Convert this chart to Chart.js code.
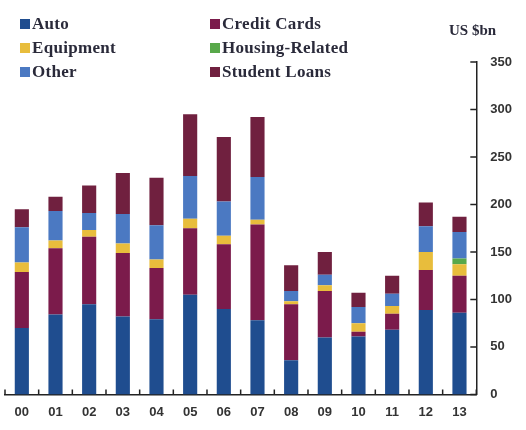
<!DOCTYPE html>
<html>
<head>
<meta charset="utf-8">
<script src="https://cdn.jsdelivr.net/npm/chart.js@4.4.1/dist/chart.umd.min.js"></script>
<style>
  body { margin: 0; background: #fff; }
  #wrap { position: relative; width: 526px; height: 430px; }
  .leg { position: absolute; font: bold 17px "Liberation Serif", serif; letter-spacing: 0.3px; color: #2a2a3a; white-space: nowrap; }
  .leg i { display: inline-block; width: 10px; height: 10px; margin-right: 2px; vertical-align: 0px; }
  #unit { position: absolute; left: 449px; top: 22px; font: bold 15px "Liberation Serif", serif; color: #2a2a3a; }
</style>
</head>
<body>
<div id="wrap">
  <canvas id="myChart" width="526" height="430"></canvas>
  <div id="unit">US $bn</div>
</div>
<script>
// years along the bottom
const years = ['00','01','02','03','04','05','06','07','08','09','10','11','12','13'];

// US $bn
const auto         = [70, 84, 95, 82, 79, 105, 90, 78, 36, 60, 61, 68, 89, 86];
const creditCards  = [59, 70, 71, 67, 54, 70, 68, 101, 59, 49, 5, 17, 42, 39];
const equipment    = [10, 8, 7, 10, 9, 10, 9, 5, 3, 6, 9, 8, 19, 12];
const housing      = [0, 0, 0, 0, 0, 0, 0, 0, 0, 0, 0, 0, 0, 6];
const other        = [37, 31, 18, 31, 36, 45, 36, 45, 11, 11, 17, 13, 27, 28];
const studentLoans = [19, 15, 29, 43, 50, 65, 68, 63, 27, 24, 15, 19, 25, 16];

const yTicks = [0, 50, 100, 150, 200, 250, 300, 350];

const series = [
  { label: 'Auto', data: auto, color: '#1f4d8f' },
  { label: 'Credit Cards', data: creditCards, color: '#7b1b4b' },
  { label: 'Equipment', data: equipment, color: '#e8bd3c' },
  { label: 'Housing-Related', data: housing, color: '#58a84a' },
  { label: 'Other', data: other, color: '#4b79c2' },
  { label: 'Student Loans', data: studentLoans, color: '#70203f' }
];

// legend in two columns, same order as the datasets
const legPos = [[20, 14], [210, 14], [20, 38], [210, 38], [20, 62], [210, 62]];
series.forEach((s, i) => {
  const d = document.createElement('div');
  d.className = 'leg';
  d.style.left = legPos[i][0] + 'px';
  d.style.top = legPos[i][1] + 'px';
  d.innerHTML = '<i style="background:' + s.color + '"></i>' + s.label;
  document.getElementById('wrap').appendChild(d);
});

// small tick marks drawn inside the plot, like the original
const innerTicks = {
  id: 'innerTicks',
  afterDraw(chart) {
    const c = chart.ctx, x = chart.scales.x, y = chart.scales.y;
    c.save();
    c.strokeStyle = '#222';
    c.lineWidth = 1.5;
    c.beginPath();
    yTicks.forEach(v => {
      const py = y.getPixelForValue(v);
      c.moveTo(x.right - 6, py);
      c.lineTo(x.right, py);
    });
    for (let i = 0; i <= years.length; i++) {
      const px = x.left + (x.right - x.left) * i / years.length;
      c.moveTo(px, y.bottom);
      c.lineTo(px, y.bottom - 5);
    }
    c.stroke();
    c.restore();
  }
};

const ctx = document.getElementById('myChart');
var myChart = new Chart(ctx, {
  type: 'bar',
  data: {
    labels: years,
    datasets: series.map(s => ({
      label: s.label,
      data: s.data,
      backgroundColor: s.color,
      borderWidth: 0,
      barPercentage: 0.42,
      categoryPercentage: 1
    }))
  },
  options: {
    responsive: false,
    animation: false,
    layout: { padding: { left: 5, right: 0, top: 62, bottom: 0 } },
    plugins: { legend: { display: false }, tooltip: { enabled: false } },
    scales: {
      x: {
        stacked: true,
        grid: { display: false, drawTicks: false },
        border: { display: true, color: '#222', width: 1.5 },
        ticks: { color: '#333', padding: 10, font: { family: 'Liberation Sans', weight: 'bold', size: 13 } }
      },
      y: {
        stacked: true,
        position: 'right',
        min: 0,
        max: 350,
        afterBuildTicks: (axis) => { axis.ticks = yTicks.map(v => ({ value: v })); },
        grid: { display: false, drawTicks: false },
        border: { display: true, color: '#222', width: 1.5 },
        ticks: { color: '#333', padding: 14, font: { family: 'Liberation Sans', weight: 'bold', size: 13 } }
      }
    }
  },
  plugins: [innerTicks]
});
</script>
</body>
</html>
